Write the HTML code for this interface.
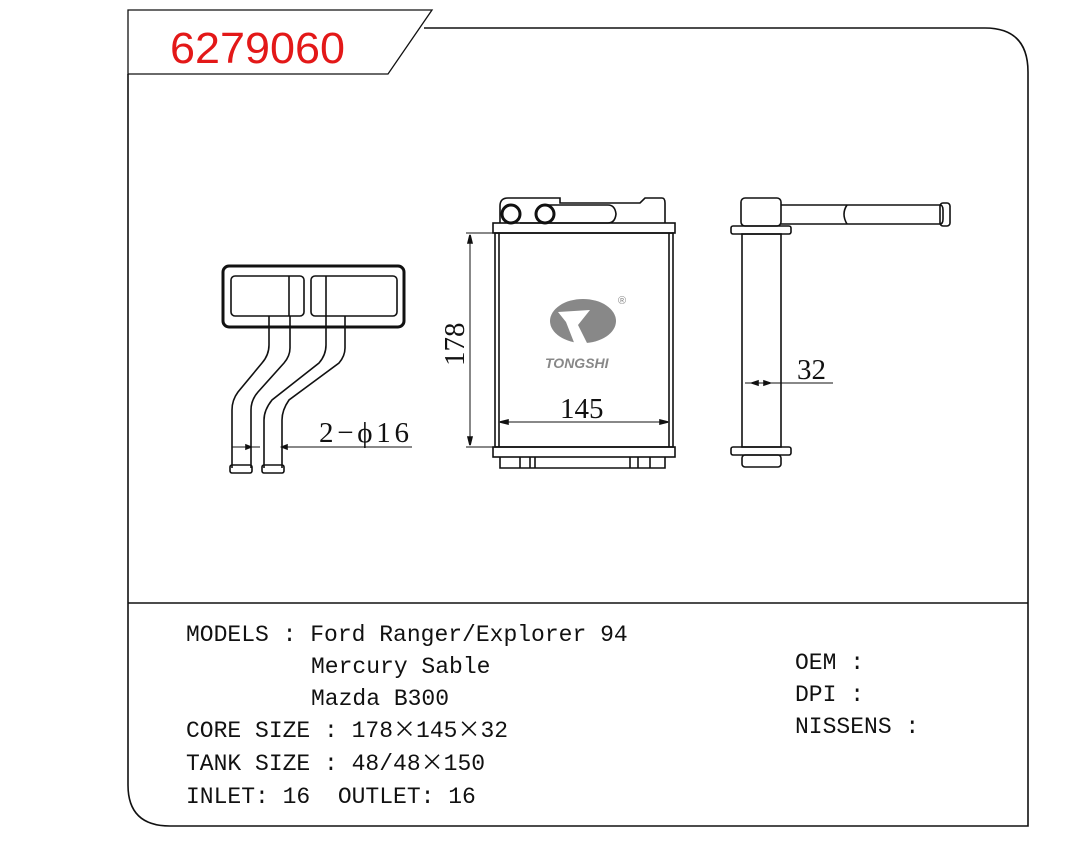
<!DOCTYPE html>
<html><head><style>
body{margin:0;background:#fff;width:1071px;height:844px;overflow:hidden}
svg{position:absolute;left:0;top:0}
.t{font-family:"Liberation Mono",monospace;font-size:23px;fill:#111}
.x{font-family:"Noto Sans CJK SC",sans-serif;font-size:23px}
.s{font-family:"Liberation Serif",serif;font-size:29px;fill:#111}
</style></head><body>
<svg width="1071" height="844" viewBox="0 0 1071 844" fill="none" stroke="#111" stroke-width="1.6">
<path d="M128,74 L128,785 Q128,826 170,826 L1028,826 L1028,72 Q1028,28 985,28 L424,28"/>
<path d="M128,10 L432,10 L388,74 L128,74 Z" stroke-width="1.3"/>
<line x1="128" y1="603" x2="1028" y2="603"/>
<text x="170" y="63" font-family="Liberation Sans,sans-serif" font-size="44" fill="#e31818" stroke="none" textLength="175" lengthAdjust="spacingAndGlyphs">6279060</text>

<rect x="223" y="266" width="181" height="61" rx="6" stroke-width="3"/>
<rect x="231" y="276" width="73" height="40" rx="4"/>
<rect x="311" y="276" width="86" height="40" rx="4"/>
<line x1="289" y1="276" x2="289" y2="316"/><line x1="326" y1="276" x2="326" y2="316"/>
<path d="M269,316 L269,345 Q269,355 262,363 L238,392 Q232,400 232,410 L232,468"/>
<path d="M290,316 L290,348 Q290,356 284,363 L258,392 Q251,400 251,410 L251,468"/>
<path d="M326,316 L326,345 Q326,355 319,363 L272,400 Q264,410 264,420 L264,468"/>
<path d="M345,316 L345,348 Q345,356 339,363 L289,400 Q282,410 282,420 L282,468"/>
<rect x="230" y="465" width="22" height="8" rx="2"/><rect x="262" y="465" width="22" height="8" rx="2"/>
<line x1="232" y1="447" x2="260" y2="447" stroke-width="1"/>
<line x1="286" y1="447" x2="412" y2="447" stroke-width="1"/>
<path d="M251,447 l-5,-2 v4z M282,447 l5,-2 v4z" fill="#111"/>
<text x="319" y="442" class="s" stroke="none" textLength="90" lengthAdjust="spacing">2−ϕ16</text>

<path d="M500,223 L500,206 Q500,198 508,198 L560,198 L560,203 L640,203 L645,198 L662,198 Q665,198 665,203 L665,223"/>
<circle cx="511" cy="214" r="9" stroke-width="3"/><circle cx="545" cy="214" r="9" stroke-width="3"/>
<path d="M545,205 L608,205 Q615,205 616,214 Q615,223 608,223 L520,223"/>
<rect x="493" y="223" width="182" height="10"/>
<rect x="493" y="447" width="182" height="10"/>
<rect x="495" y="233" width="178" height="214"/>
<line x1="499" y1="233" x2="499" y2="447"/><line x1="669" y1="233" x2="669" y2="447"/>
<path d="M500,457 L500,468 L665,468 L665,457"/>
<line x1="520" y1="457" x2="520" y2="468"/><line x1="530" y1="457" x2="530" y2="468"/><line x1="535" y1="457" x2="535" y2="468"/>
<line x1="630" y1="457" x2="630" y2="468"/><line x1="638" y1="457" x2="638" y2="468"/><line x1="650" y1="457" x2="650" y2="468"/>
<line x1="466" y1="233" x2="495" y2="233" stroke-width="1"/><line x1="466" y1="447" x2="495" y2="447" stroke-width="1"/>
<line x1="470" y1="235" x2="470" y2="445" stroke-width="1"/>
<path d="M470,235 l-2,8 h4z M470,445 l-2,-8 h4z" fill="#111"/>
<text class="s" stroke="none" transform="translate(464,366) rotate(-90)">178</text>
<line x1="500" y1="422" x2="668" y2="422" stroke-width="1"/>
<path d="M500,422 l8,-2 v4z M668,422 l-8,-2 v4z" fill="#111"/>
<text x="560" y="418" class="s" stroke="none">145</text>
<ellipse cx="583" cy="321" rx="33" ry="22" fill="#888" stroke="none"/>
<path d="M558,312 L590,310 L578,325 L588,345 L575,345 L566,322 Z" fill="#fff" stroke="none"/>
<text x="618" y="304" font-size="11" fill="#888" stroke="none" font-family="Liberation Sans,sans-serif">®</text>
<text x="545" y="368" font-size="14" font-weight="bold" font-style="italic" fill="#888" stroke="none" font-family="Liberation Sans,sans-serif">TONGSHI</text>

<rect x="741" y="198" width="40" height="28" rx="4"/>
<rect x="731" y="226" width="60" height="8" rx="2"/>
<rect x="742" y="234" width="39" height="213"/>
<rect x="731" y="447" width="60" height="8" rx="2"/>
<rect x="742" y="455" width="39" height="12" rx="3"/>
<path d="M781,205 L940,205 Q943,205 943,210 L943,219 Q943,224 940,224 L781,224"/>
<path d="M847,205 Q841,214 847,224"/>
<rect x="940" y="203" width="10" height="23" rx="3"/>
<line x1="745" y1="383" x2="833" y2="383" stroke-width="1"/>
<path d="M752,383 l6,-2 v4z M770,383 l-6,-2 v4z" fill="#111"/>
<text x="797" y="379" class="s" stroke="none">32</text>

<g stroke="none">
<text class="t" x="186" y="641">MODELS : Ford Ranger/Explorer 94</text>
<text class="t" x="311" y="673">Mercury Sable</text>
<text class="t" x="311" y="705">Mazda B300</text>
<text class="t" x="186" y="737">CORE SIZE : 178<tspan class="x">×</tspan>145<tspan class="x">×</tspan>32</text>
<text class="t" x="186" y="770">TANK SIZE : 48/48<tspan class="x">×</tspan>150</text>
<text class="t" x="186" y="803" xml:space="preserve">INLET: 16  OUTLET: 16</text>
<text class="t" x="795" y="669">OEM :</text>
<text class="t" x="795" y="701">DPI :</text>
<text class="t" x="795" y="733">NISSENS :</text>
</g>
</svg>
</body></html>
